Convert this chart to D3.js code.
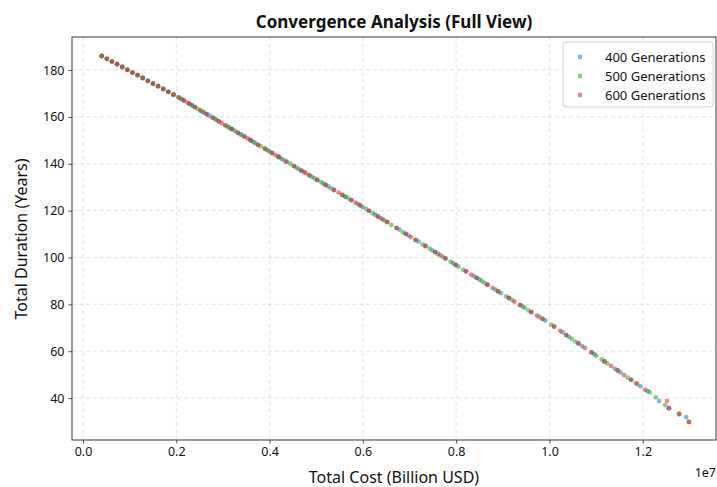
<!DOCTYPE html>
<html>
<head>
<meta charset="utf-8">
<script src="https://cdn.jsdelivr.net/npm/d3@7"></script>
<style>
  body { margin: 0; background: #fff; }
  svg text { font-family: "Noto Sans", "DejaVu Sans", sans-serif; fill: #111; }
</style>
</head>
<body>
<svg id="chart" width="717" height="487"></svg>
<script>
// cost in units of 1e7, duration in years
const gen400 = [
  [0.040,186.0],[0.051,184.8],[0.062,183.6],[0.073,182.5],[0.084,181.3],[0.095,180.1],[0.106,178.9],[0.117,177.8],
  [0.128,176.6],[0.139,175.4],[0.150,174.2],[0.161,173.1],[0.172,171.9],[0.183,170.7],[0.194,169.5],
  [0.211,167.6],[0.216,167.0],[0.234,164.9],[0.240,164.2],[0.258,162.0],[0.265,161.2],[0.284,159.0],[0.291,158.1],
  [0.311,155.7],[0.318,154.9],[0.338,152.5],[0.346,151.6],[0.366,149.2],[0.375,148.1],[0.396,145.7],[0.405,144.6],
  [0.426,142.1],[0.436,140.9],[0.458,138.3],[0.468,137.1],[0.491,134.4],[0.502,133.1],[0.526,130.3],[0.538,128.8],
  [0.562,126.0],[0.575,124.5],[0.600,121.5],[0.613,119.9],[0.638,116.8],[0.652,115.1],[0.678,111.9],[0.692,110.1],
  [0.719,106.8],[0.734,104.9],[0.761,101.6],[0.777,99.6],[0.805,96.1],[0.821,94.1],[0.850,90.6],[0.867,88.4],
  [0.896,84.8],[0.913,82.7],[0.943,79.0],[0.961,76.7],[0.991,73.1],[1.010,70.5],[1.042,66.1],[1.062,63.3],
  [1.096,58.7],[1.118,55.6],[1.152,51.0],[1.175,47.8],[1.210,43.0],[1.235,38.7],[1.256,35.7],[1.293,31.9],
  [0.271,160.5],[0.326,154.0],[0.358,150.2],[0.418,143.1],[0.474,136.5],[0.515,131.6],[0.589,122.9],[0.626,118.3],
  [0.698,109.3],[0.749,103.0],[0.793,97.6],[0.838,92.0],[0.884,86.3],[0.978,74.6],[1.028,68.0],[1.070,62.2],
  [1.140,52.6],[1.195,45.0]
];
const gen500 = [
  [0.040,186.0],[0.051,184.8],[0.062,183.6],[0.073,182.5],[0.084,181.3],[0.095,180.1],[0.106,178.9],[0.117,177.8],
  [0.128,176.6],[0.139,175.4],[0.150,174.2],[0.161,173.1],[0.172,171.9],[0.183,170.7],[0.194,169.5],
  [0.205,168.3],[0.210,167.7],[0.228,165.6],[0.234,164.9],[0.252,162.7],[0.259,161.9],[0.278,159.7],[0.285,158.8],
  [0.305,156.4],[0.312,155.6],[0.332,153.2],[0.340,152.3],[0.360,149.9],[0.369,148.8],[0.390,146.4],[0.399,145.3],
  [0.420,142.8],[0.430,141.6],[0.452,139.0],[0.462,137.8],[0.485,135.1],[0.496,133.8],[0.520,131.0],[0.532,129.5],
  [0.556,126.7],[0.569,125.2],[0.594,122.2],[0.607,120.7],[0.632,117.5],[0.646,115.8],[0.672,112.6],[0.686,110.8],
  [0.713,107.5],[0.728,105.6],[0.755,102.3],[0.771,100.3],[0.799,96.8],[0.815,94.8],[0.844,91.3],[0.861,89.1],
  [0.890,85.5],[0.907,83.4],[0.937,79.7],[0.955,77.4],[0.985,73.8],[1.004,71.3],[1.036,66.9],[1.056,64.1],
  [1.090,59.5],[1.112,56.5],[1.146,51.8],[1.168,48.7],[1.215,42.5],[1.248,37.0],[1.278,33.2],[1.299,29.8],
  [0.246,163.4],[0.320,154.7],[0.381,147.5],[0.444,140.0],[0.510,132.2],[0.563,125.9],[0.621,118.9],[0.661,113.9],
  [0.743,103.8],[0.788,98.2],[0.855,89.9],[0.920,81.8],[0.947,78.5],[1.048,65.3],[1.100,58.1],[1.124,54.8],
  [1.185,46.4],[1.228,40.3]
];
const gen600 = [
  [0.040,186.0],[0.051,184.8],[0.062,183.6],[0.073,182.5],[0.084,181.3],[0.095,180.1],[0.106,178.9],[0.117,177.8],
  [0.128,176.6],[0.139,175.4],[0.150,174.2],[0.161,173.1],[0.172,171.9],[0.183,170.7],[0.194,169.5],
  [0.205,168.3],[0.216,167.0],[0.228,165.6],[0.240,164.2],[0.252,162.7],[0.265,161.2],[0.278,159.7],[0.291,158.1],
  [0.305,156.4],[0.318,154.9],[0.332,153.2],[0.346,151.6],[0.360,149.9],[0.375,148.1],[0.390,146.4],[0.405,144.6],
  [0.420,142.8],[0.436,140.9],[0.452,139.0],[0.468,137.1],[0.485,135.1],[0.502,133.1],[0.520,131.0],[0.538,128.8],
  [0.556,126.7],[0.575,124.5],[0.594,122.2],[0.613,119.9],[0.632,117.5],[0.652,115.1],[0.672,112.6],[0.692,110.1],
  [0.713,107.5],[0.734,104.9],[0.755,102.3],[0.777,99.6],[0.799,96.8],[0.821,94.1],[0.844,91.3],[0.867,88.4],
  [0.890,85.5],[0.913,82.7],[0.937,79.7],[0.961,76.7],[0.985,73.8],[1.010,70.5],[1.036,66.9],[1.062,63.3],
  [1.090,59.5],[1.118,55.6],[1.146,51.8],[1.175,47.8],[1.205,43.6],[1.252,38.7],[1.256,35.7],[1.278,33.2],[1.299,29.8],
  [0.224,166.1],[0.297,157.4],[0.353,150.8],[0.412,143.8],[0.477,136.1],[0.548,127.7],[0.584,123.4],[0.642,116.3],
  [0.703,108.7],[0.766,100.9],[0.832,92.7],[0.878,87.0],[0.925,81.2],[0.973,75.2],[1.023,68.7],[1.076,61.4],
  [1.132,53.7],[1.160,49.8],[1.188,46.0]
];

const seriesNames  = ['400 Generations', '500 Generations', '600 Generations'];
const seriesColors = ['#1f77b4', '#2ca02c', '#d62728'];
const xTicks = [0.0, 0.2, 0.4, 0.6, 0.8, 1.0, 1.2];
const yTicks = [40, 60, 80, 100, 120, 140, 160, 180];

const svg = d3.select('#chart');
const M = { left: 72, right: 716, top: 37, bottom: 440 };

const x = d3.scaleLinear().domain([-0.0236, 1.357]).range([M.left, M.right]);
const y = d3.scaleLinear().domain([22.1, 194.1]).range([M.bottom, M.top]);

// grid
const grid = svg.append('g');
grid.selectAll('line.gx').data(xTicks).join('line')
  .attr('x1', d => x(d)).attr('x2', d => x(d))
  .attr('y1', M.top).attr('y2', M.bottom)
  .attr('stroke', '#b0b0b0').attr('stroke-opacity', 0.4)
  .attr('stroke-dasharray', '4,3').attr('stroke-width', 0.9);
grid.selectAll('line.gy').data(yTicks).join('line')
  .attr('y1', d => y(d)).attr('y2', d => y(d))
  .attr('x1', M.left).attr('x2', M.right)
  .attr('stroke', '#b0b0b0').attr('stroke-opacity', 0.4)
  .attr('stroke-dasharray', '4,3').attr('stroke-width', 0.9);

// points
const allSeries = [gen400, gen500, gen600];
allSeries.forEach((data, i) => {
  svg.append('g').selectAll('circle').data(data).join('circle')
    .attr('cx', d => x(d[0]))
    .attr('cy', d => y(d[1]))
    .attr('r', 2.4)
    .attr('fill', seriesColors[i])
    .attr('fill-opacity', 0.55);
});

// axes
const xAxis = d3.axisBottom(x).tickValues(xTicks).tickFormat(d3.format('.1f')).tickSize(3.5).tickPadding(4);
const yAxis = d3.axisLeft(y).tickValues(yTicks).tickSize(3.5).tickPadding(4);

const gx = svg.append('g').attr('transform', `translate(0,${M.bottom})`).call(xAxis);
const gy = svg.append('g').attr('transform', `translate(${M.left},0)`).call(yAxis);
[gx, gy].forEach(g => {
  g.select('.domain').remove();
  g.selectAll('.tick line').attr('stroke', '#222').attr('stroke-width', 0.8);
  g.selectAll('.tick text').attr('font-size', 12.5).attr('fill', '#111')
    .style('font-family', '"Noto Sans", sans-serif');
});

// frame
svg.append('rect')
  .attr('x', M.left).attr('y', M.top)
  .attr('width', M.right - M.left).attr('height', M.bottom - M.top)
  .attr('fill', 'none').attr('stroke', '#222').attr('stroke-width', 0.9);

// labels
svg.append('text').attr('x', 394).attr('y', 28).attr('text-anchor', 'middle')
  .attr('font-size', 17).attr('font-weight', 'bold').text('Convergence Analysis (Full View)');
svg.append('text').attr('x', 394).attr('y', 483).attr('text-anchor', 'middle')
  .attr('font-size', 16).text('Total Cost (Billion USD)');
svg.append('text').attr('transform', 'translate(27,239) rotate(-90)').attr('text-anchor', 'middle')
  .attr('font-size', 16).text('Total Duration (Years)');
svg.append('text').attr('x', 716).attr('y', 477).attr('text-anchor', 'end')
  .attr('font-size', 12.5).text('1e7');

// legend
const lg = svg.append('g').attr('transform', 'translate(563,42)');
lg.append('rect').attr('width', 150).attr('height', 65).attr('rx', 3)
  .attr('fill', '#fff').attr('fill-opacity', 0.8)
  .attr('stroke', '#cccccc').attr('stroke-width', 0.9);
seriesNames.forEach((name, i) => {
  const row = lg.append('g').attr('transform', `translate(0,${15 + i * 19})`);
  row.append('circle').attr('cx', 17).attr('cy', 0).attr('r', 2.4)
    .attr('fill', seriesColors[i]).attr('fill-opacity', 0.55);
  row.append('text').attr('x', 42).attr('y', 4.5).attr('font-size', 13).text(name);
});
</script>
</body>
</html>
